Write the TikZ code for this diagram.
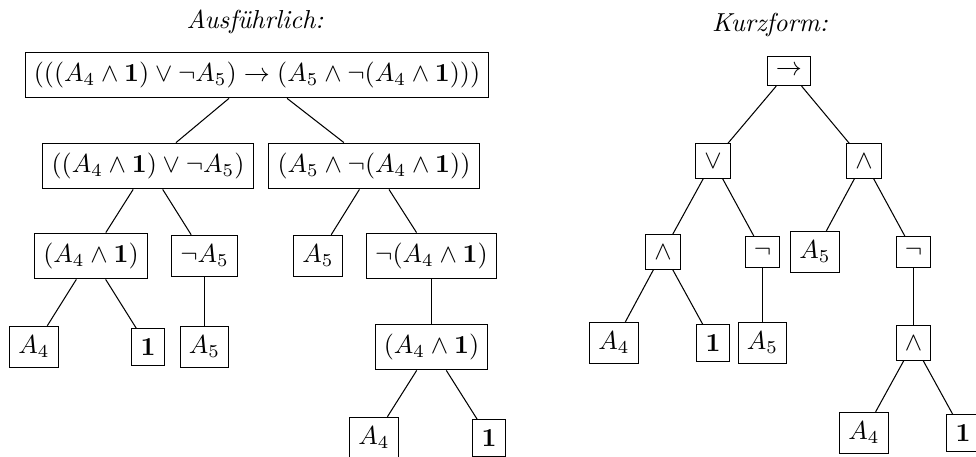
\documentclass[tikz,border=0pt]{standalone}
\usepackage{amsmath}
\begin{document}
\begin{tikzpicture}[x=0.3846pt,y=-0.3846pt,
  tn/.style={draw,inner xsep=3.33pt,inner ysep=3.8pt},
  ttl/.style={inner sep=0pt,font=\itshape}]
\useasboundingbox (0,0) rectangle (976,457);
% titles
\node[ttl] (t1) at (255,22) {Ausführlich:};
\node[ttl] (t2) at (770,25) {Kurzform:};
% left tree
\node[tn] (r) at (257,75) {$(((A_4 \wedge \mathbf{1}) \vee \neg A_5) \to (A_5 \wedge \neg(A_4 \wedge \mathbf{1})))$};
\node[tn] (l1) at (148,166) {$((A_4 \wedge \mathbf{1}) \vee \neg A_5)$};
\node[tn] (r1) at (374,166) {$(A_5 \wedge \neg(A_4 \wedge \mathbf{1}))$};
\node[tn] (l2a) at (91,256) {$(A_4 \wedge \mathbf{1})$};
\node[tn] (l2b) at (204.5,256) {$\neg A_5$};
\node[tn] (r2a) at (318,256) {$A_5$};
\node[tn] (r2b) at (431.5,256) {$\neg(A_4 \wedge \mathbf{1})$};
\node[tn] (l3a) at (34,347) {$A_4$};
\node[tn] (l3b) at (148,347) {$\mathbf{1}$};
\node[tn] (l3c) at (204.5,347) {$A_5$};
\node[tn] (r3) at (431.5,347) {$(A_4 \wedge \mathbf{1})$};
\node[tn] (r4a) at (374,438) {$A_4$};
\node[tn] (r4b) at (489,438) {$\mathbf{1}$};
\draw (r) -- (l1); \draw (r) -- (r1);
\draw (l1) -- (l2a); \draw (l1) -- (l2b);
\draw (r1) -- (r2a); \draw (r1) -- (r2b);
\draw (l2a) -- (l3a); \draw (l2a) -- (l3b);
\draw (l2b) -- (l3c);
\draw (r2b) -- (r3);
\draw (r3) -- (r4a); \draw (r3) -- (r4b);
% right tree
\node[tn] (k) at (789,71) {$\to$};
\node[tn] (kl) at (713,161) {$\vee$};
\node[tn] (kr) at (864,161) {$\wedge$};
\node[tn] (kla) at (663,252) {$\wedge$};
\node[tn] (klb) at (762.5,252) {$\neg$};
\node[tn] (kra) at (815,252) {$A_5$};
\node[tn] (krb) at (913.5,252) {$\neg$};
\node[tn] (klaa) at (614,343) {$A_4$};
\node[tn] (klab) at (713,343) {$\mathbf{1}$};
\node[tn] (klba) at (762.5,343) {$A_5$};
\node[tn] (krba) at (913.5,343) {$\wedge$};
\node[tn] (krbaa) at (864,433) {$A_4$};
\node[tn] (krbab) at (963,433) {$\mathbf{1}$};
\draw (k) -- (kl); \draw (k) -- (kr);
\draw (kl) -- (kla); \draw (kl) -- (klb);
\draw (kr) -- (kra); \draw (kr) -- (krb);
\draw (kla) -- (klaa); \draw (kla) -- (klab);
\draw (klb) -- (klba);
\draw (krb) -- (krba);
\draw (krba) -- (krbaa); \draw (krba) -- (krbab);
\end{tikzpicture}
\end{document}
